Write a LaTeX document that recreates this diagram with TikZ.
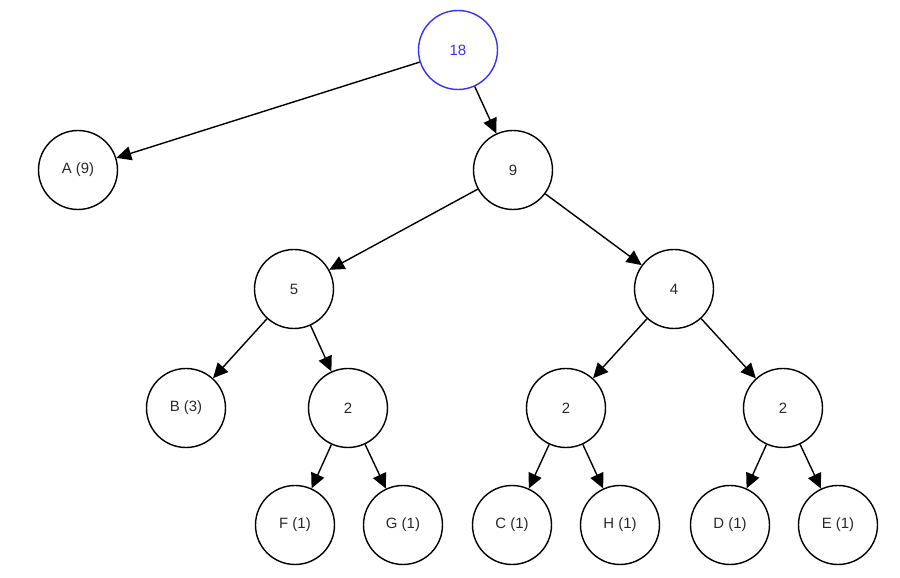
\documentclass[tikz,border=0pt]{standalone}
\usepackage{fontspec}
\setmainfont{Liberation Sans}
\usetikzlibrary{arrows.meta}
\definecolor{knotblau}{RGB}{51,51,255}
\definecolor{textgrau}{RGB}{40,40,40}

\begin{document}
\begin{tikzpicture}[>={Triangle[length=8.5pt,width=8pt]}, font=\fontsize{8.5}{10}\selectfont,
	knoten/.style={circle, draw, line width=0.8pt, minimum size=1.58cm, inner sep=0pt, text=textgrau},
	kante/.style={->, line width=0.8pt}]
	
	\useasboundingbox (0,0) rectangle (18,-11.56);
	
	% --- Wurzel ---
	\node[knoten, draw=knotblau, text=knotblau] (wurzel) at (9.16,-1.0) {18};
	
	% --- Ebene 1 ---
	\node[knoten] (a) at (1.56,-3.4) {A (9)};
	\node[knoten] (n9) at (10.26,-3.4) {9};
	
	% --- Ebene 2 ---
	\node[knoten] (n5) at (5.88,-5.78) {5};
	\node[knoten] (n4) at (13.48,-5.78) {4};
	
	% --- Ebene 3 ---
	\node[knoten] (b) at (3.72,-8.16) {B (3)};
	\node[knoten] (n2a) at (6.96,-8.16) {2};
	\node[knoten] (n2b) at (11.32,-8.16) {2};
	\node[knoten] (n2c) at (15.66,-8.16) {2};
	
	% --- Blaetter ---
	\node[knoten] (f) at (5.9,-10.5) {F (1)};
	\node[knoten] (g) at (8.06,-10.5) {G (1)};
	\node[knoten] (c) at (10.24,-10.5) {C (1)};
	\node[knoten] (h) at (12.4,-10.5) {H (1)};
	\node[knoten] (d) at (14.6,-10.5) {D (1)};
	\node[knoten] (e) at (16.76,-10.5) {E (1)};
	
	% --- Kanten ---
	\foreach \von/\nach in {wurzel/a, wurzel/n9, n9/n5, n9/n4, n5/b, n5/n2a,
		n4/n2b, n4/n2c, n2a/f, n2a/g, n2b/c, n2b/h, n2c/d, n2c/e}{
		\draw[kante] (\von) -- (\nach);
	}
	
\end{tikzpicture}
\end{document}
